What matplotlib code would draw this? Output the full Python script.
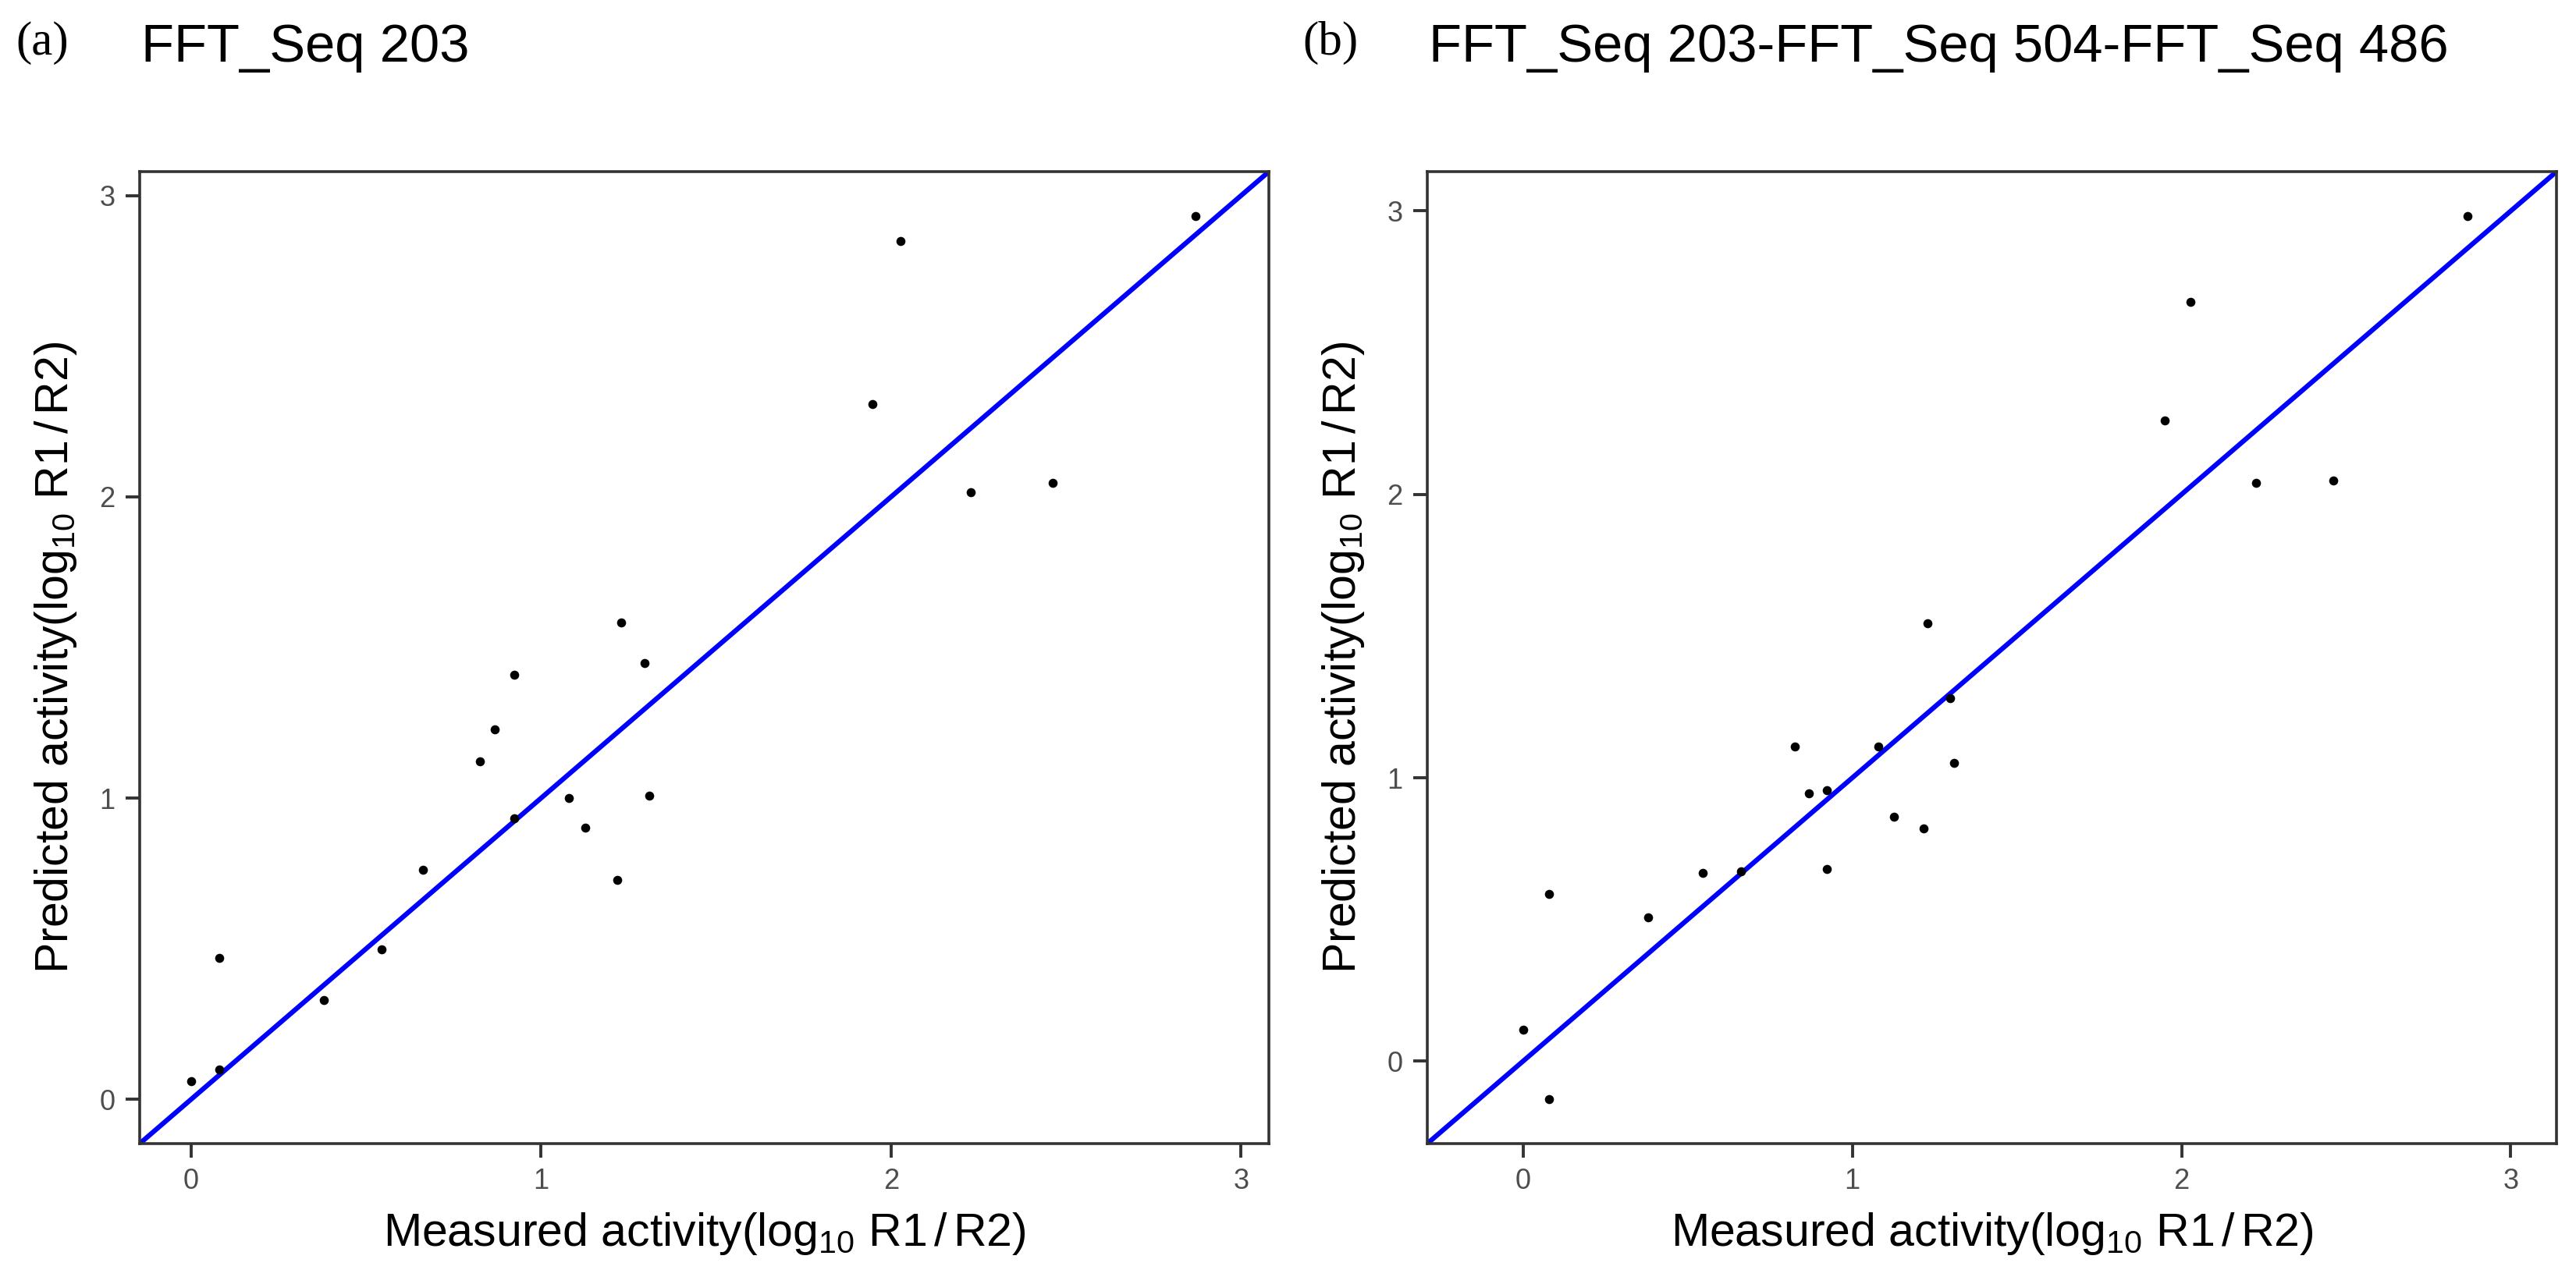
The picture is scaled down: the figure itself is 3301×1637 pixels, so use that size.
import matplotlib
matplotlib.use("Agg")
import matplotlib.pyplot as plt
import numpy as np

plt.rcParams['font.family'] = ['Liberation Sans', 'DejaVu Sans']
plt.rcParams['mathtext.fontset'] = 'custom'
plt.rcParams['mathtext.rm'] = 'Liberation Sans'
plt.rcParams['mathtext.it'] = 'Liberation Sans:italic'

# measured activity, same for both models
measured = [0.00, 0.08, 0.08, 0.38, 0.545, 0.663, 0.825, 0.868, 0.923, 0.923,
            1.08, 1.127, 1.217, 1.229, 1.297, 1.31, 1.948, 2.027, 2.227, 2.462, 2.869]

# predicted, model (a)
pred_a = [0.061, 0.469, 0.100, 0.329, 0.499, 0.762, 1.121, 1.228, 1.409, 0.932,
          1.001, 0.901, 0.729, 1.584, 1.448, 1.007, 2.308, 2.850, 2.015, 2.047, 2.933]

# predicted, model (b)
pred_b = [0.111, 0.589, -0.135, 0.508, 0.663, 0.670, 1.109, 0.945, 0.956, 0.677,
          1.109, 0.862, 0.820, 1.544, 1.281, 1.053, 2.261, 2.679, 2.041, 2.048, 2.983]

titles = ['FFT_Seq 203', 'FFT_Seq 203-FFT_Seq 504-FFT_Seq 486']
tags = ['(a)', '(b)']
ticks = [0, 1, 2, 3]

xlab = r'Measured activity(log$_{10}$ R1$\,$/$\,$R2)'
ylab = r'Predicted activity(log$_{10}$ R1$\,$/$\,$R2)'

W, H = 3301, 1637
fig = plt.figure(figsize=(W / 100, H / 100), dpi=100)

lefts = [179, 1829]
tag_x = [20, 1669]
ax_w = 1447
ax_top, ax_bot = 220, 1466

for i, pred in enumerate([pred_a, pred_b]):
    ax = fig.add_axes([lefts[i] / W, 1 - ax_bot / H, ax_w / W, (ax_bot - ax_top) / H])

    # same limits on both axes, 5% padding like ggplot
    lo = min(min(measured), min(pred))
    hi = max(max(measured), max(pred))
    pad = 0.05 * (hi - lo)
    ax.set_xlim(lo - pad, hi + pad)
    ax.set_ylim(lo - pad, hi + pad)

    ax.axline((0, 0), slope=1, color='#0000FF', lw=4.5, zorder=2)
    ax.scatter(measured, pred, s=70, color='black', linewidths=0, zorder=3)

    ax.set_xticks(ticks)
    ax.set_yticks(ticks)
    ax.tick_params(direction='out', length=13, width=2.8, color='#333333',
                   labelsize=26, labelcolor='#4D4D4D', pad=9.5)
    for sp in ax.spines.values():
        sp.set_color('#333333')
        sp.set_linewidth(2.6)

    ax.set_xlabel(xlab, fontsize=42.5, color='black')
    ax.xaxis.set_label_coords(0.5, (ax_bot - 1597) / (ax_bot - ax_top))
    ax.xaxis.label.set_va('baseline')

    ax.set_ylabel(ylab, fontsize=42.5, color='black', rotation=90,
                  rotation_mode='anchor', ha='center', va='baseline')
    ax.yaxis.set_label_coords((87 - 179) / ax_w, 0.5)

    ax.text(0.0015, (ax_bot - 79) / (ax_bot - ax_top), titles[i], transform=ax.transAxes,
            fontsize=49.5, ha='left', va='baseline')
    fig.text(tag_x[i] / W, 1 - 70 / H, tags[i], fontsize=44, family='Liberation Serif',
             ha='left', va='baseline')

fig.savefig('out.png', dpi=100, facecolor='white')
